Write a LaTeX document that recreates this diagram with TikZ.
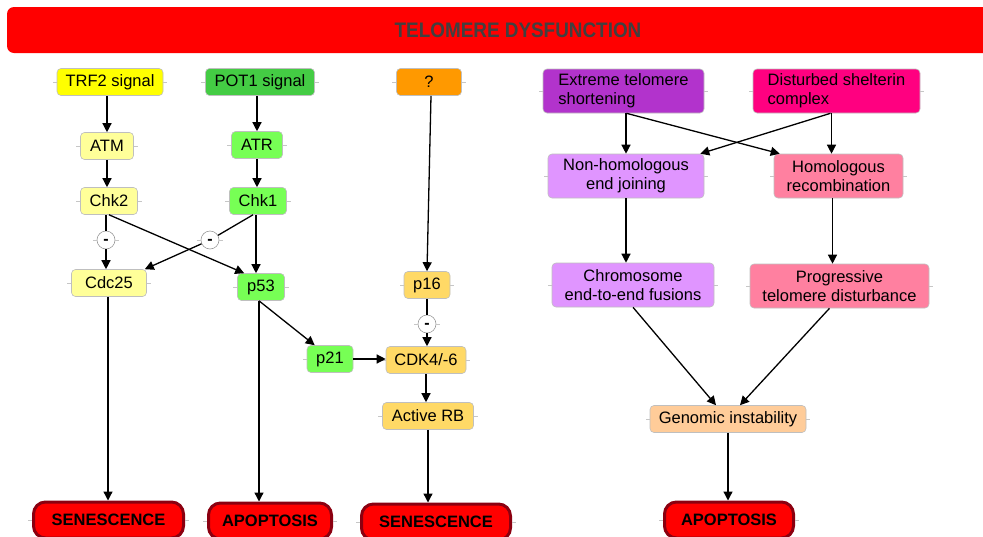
\documentclass[tikz,border=0pt]{standalone}
\usepackage{fontspec}
\setmainfont{Liberation Sans}
\usetikzlibrary{arrows.meta}
\definecolor{cTRF}{HTML}{FFFF00}
\definecolor{cPOT}{HTML}{44CC44}
\definecolor{cQ}{HTML}{FF9900}
\definecolor{cLY}{HTML}{FFFF99}
\definecolor{cLG}{HTML}{77FF55}
\definecolor{cOR}{HTML}{FFD966}
\definecolor{cEXT}{HTML}{B233CC}
\definecolor{cDIS}{HTML}{FF0080}
\definecolor{cLP}{HTML}{E095FF}
\definecolor{cPK}{HTML}{FF80A0}
\definecolor{cGI}{HTML}{FFCC99}
\definecolor{cTERM}{HTML}{8B0010}
\definecolor{cTitle}{HTML}{404040}
\tikzset{
  x=1pt, y=-1pt,
  ticks/.style={append after command={(\tikzlastnode.west) edge[draw=gray!45,line width=0.6pt] ++(-4,0) (\tikzlastnode.east) edge[draw=gray!45,line width=0.6pt] ++(4,0)}},
  box/.style={draw=black!25, line width=0.6pt, rounded corners=4pt, inner sep=2pt, minimum height=27pt,
    font=\fontsize{16.5}{19}\selectfont, text=black, ticks},
  box2/.style={box, minimum height=44pt, align=center},
  term/.style={draw=cTERM, line width=3pt, fill=red, rounded corners=12pt, minimum height=36pt,
    font=\fontsize{16.5}{18}\selectfont\bfseries, text=black, ticks},
  minus/.style={circle, draw=black!40, fill=white, line width=0.6pt, minimum size=18pt, inner sep=0pt,
    font=\fontsize{16}{16}\selectfont\bfseries, text height=8.6pt, text depth=0pt, ticks},
  arr/.style={-{Triangle[length=9pt,width=9pt]}, line width=1.3pt, black},
  ln/.style={line width=1.3pt, black},
}
\begin{document}
\begin{tikzpicture}
\useasboundingbox (0,0) rectangle (983,536);
% title
\fill[red, rounded corners=7pt] (7,7) rectangle (1000,53);
\node[text=cTitle, font=\fontsize{21}{22}\selectfont\bfseries, xscale=0.9] (title) at (518,30) {TELOMERE DYSFUNCTION};

% left column nodes
\node[box, fill=cTRF, minimum width=106pt] (trf) at (110,82) {TRF2 signal};
\node[box, fill=cPOT, minimum width=109pt] (pot) at (260,82) {POT1 signal};
\node[box, fill=cQ, minimum width=65pt] (q) at (429,82) {?};
\node[box, fill=cLY, minimum width=53pt] (atm) at (107,146) {ATM};
\node[box, fill=cLG, minimum width=51pt] (atr) at (257,145) {ATR};
\node[box, fill=cLY, minimum width=57pt] (chk2) at (109,201) {Chk2};
\node[box, fill=cLG, minimum width=57pt] (chk1) at (258,201) {Chk1};
\node[minus] (m1) at (106,240) {-};
\node[minus] (m2) at (210,240) {-};
\node[box, fill=cLY, minimum width=75pt] (cdc) at (109,283) {Cdc25};
\node[box, fill=cLG, minimum width=47pt] (p53) at (261,287) {p53};
\node[box, fill=cOR, minimum width=46pt] (p16) at (427,285) {p16};
\node[minus] (m3) at (427,324) {-};
\node[box, fill=cLG, minimum width=46pt] (p21) at (330,359) {p21};
\node[box, fill=cOR, minimum width=80pt] (cdk) at (426,360) {CDK4/-6};
\node[box, fill=cOR, minimum width=91pt] (rb) at (428,416) {Active RB};

% right column nodes
\node[box2, fill=cEXT, minimum width=161pt, align=left] (ext) at (623.5,91) {Extreme telomere\\shortening};
\node[box2, fill=cDIS, minimum width=167pt, align=left] (dis) at (836.5,91) {Disturbed shelterin\\complex};
\node[box2, fill=cLP, minimum width=156pt] (nhej) at (626,176) {Non-homologous\\end joining};
\node[box2, fill=cPK, minimum width=129pt] (hr) at (838.5,176) {Homologous\\recombination};
\node[box2, fill=cLP, minimum width=162pt] (chr) at (633,285) {Chromosome\\end-to-end fusions};
\node[box2, fill=cPK, minimum width=179pt] (prog) at (839.5,286) {Progressive\\telomere disturbance};
\node[box, fill=cGI, minimum width=156pt] (gi) at (728,419) {Genomic instability};

% terminal nodes
\node[term, minimum width=150pt] (sen1) at (108.5,520) {SENESCENCE};
\node[term, minimum width=123pt] (apo1) at (270,521) {APOPTOSIS};
\node[term, minimum width=149pt] (sen2) at (436,522) {SENESCENCE};
\node[term, minimum width=129pt] (apo2) at (729,520) {APOPTOSIS};

% edges left
\draw[arr] ([xshift=-3pt]trf.south) -- ([xshift=-3pt]trf.south |- atm.north);
\draw[arr] (atm.south) -- (atm.south |- chk2.north);
\draw[ln] (chk2.south -| m1) -- (m1);
\draw[arr] (m1) -- (m1 |- cdc.north);
\draw[arr] (chk2.south) -- ([xshift=7pt]p53.north west);
\draw[arr] ([xshift=-3pt]pot.south) -- ([xshift=-3pt]pot.south |- atr.north);
\draw[arr] (atr.south) -- (atr.south |- chk1.north);
\draw[arr] ([xshift=-2pt]chk1.south) -- ([xshift=-2pt]chk1.south |- p53.north);
\draw[ln] ([xshift=-5pt]chk1.south) -- (m2);
\draw[arr] (m2) -- ([xshift=-2pt]cdc.north east);
\draw[arr] ([xshift=-1pt]cdc.south) -- ([xshift=-1pt]cdc.south |- sen1.north);
\draw[arr] ([xshift=-2pt]p53.south) -- ([xshift=-2pt]p53.south |- apo1.north);
\draw[arr] ([xshift=-2pt]p53.south) -- ([xshift=8pt]p21.north west);
\draw[arr] ([xshift=2pt]q.south) -- (p16.north);
\draw[ln] (p16.south -| m3) -- (m3);
\draw[arr] (m3) -- (m3 |- cdk.north);
\draw[arr] (p21.east) -- (cdk.west |- p21.east);
\draw[arr] (cdk.south) -- (cdk.south |- rb.north);
\draw[arr] (rb.south) -- (rb.south |- sen2.north);

% edges right
\draw[arr] (ext.south -| nhej.north) -- (nhej.north);
\draw[arr] ([xshift=3pt]ext.south) -- ([xshift=6pt]hr.north west);
\draw[arr] ([xshift=-6pt]dis.south) -- ([xshift=-4pt]nhej.north east);
\draw[arr] ([xshift=-5pt]dis.south) -- ([xshift=-5pt]dis.south |- hr.north);
\draw[arr] (nhej.south) -- (nhej.south |- chr.north);
\draw[arr] ([xshift=-6pt]hr.south) -- ([xshift=-6pt]hr.south |- prog.north);
\draw[arr] (chr.south) -- ([xshift=-12pt]gi.north);
\draw[arr] ([xshift=-10pt]prog.south) -- ([xshift=12pt]gi.north);
\draw[arr] (gi.south) -- (gi.south |- apo2.north);
\end{tikzpicture}
\end{document}
